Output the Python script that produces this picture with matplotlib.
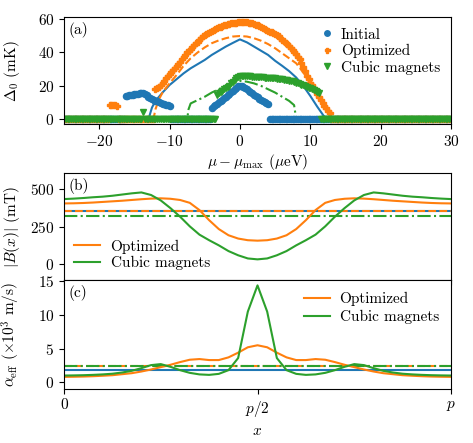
import numpy as np
import matplotlib
matplotlib.use("Agg")
import matplotlib.pyplot as plt

plt.rcParams['font.family'] = 'serif'
plt.rcParams['font.serif'] = ['cmr10', 'DejaVu Serif']
plt.rcParams['mathtext.fontset'] = 'cm'
plt.rcParams['axes.formatter.use_mathtext'] = True
plt.rcParams['font.size'] = 11

# ---- panel (a): gap vs chemical potential ----
step = 0.25
init_seg1_start = -16.25
init_seg1 = [14.0, 14.2, 14.4, 14.6, 14.8, 15.0, 15.2, 15.4, 15.6, 15.8, 16.0,
             15.2, 14.4, 13.6, 12.9, 12.3, 11.7, 11.2, 10.7, 10.2, 9.8, 9.4,
             9.0, 8.7, 8.4, 8.1]
init_seg2_start = -4.0
init_seg2 = [7.0, 7.8, 8.6, 9.4, 10.2, 11.0, 11.8, 12.7, 13.6, 14.5, 15.4, 16.3,
             17.2, 18.1, 19.0, 19.7, 20.0, 19.8, 19.3, 18.6, 17.9, 17.1, 16.3,
             15.5, 14.7, 13.9, 13.1, 12.4, 11.7, 11.0, 10.3, 9.6, 9.0]
init_zero_ranges = [(-25, -16.5), (-9.75, -4.25), (4.25, 30)]

opt_seg1_start = -18.5
opt_seg1 = [8.5, 8.5, 8.8, 8.3, 8.0]
opt_seg2_start = -12.0
opt_seg2 = [18.0, 18.5, 19.5, 20.5, 22.0, 23.2, 24.5, 25.8, 27.0, 28.3, 29.6,
            30.8, 32.0, 33.3, 34.5, 35.8, 37.0, 38.5, 40.0, 41.0, 42.0, 43.2,
            44.3, 45.4, 46.5, 47.6, 48.6, 49.6, 50.5, 51.2, 51.8, 52.4, 53.0,
            53.5, 54.0, 54.5, 55.0, 55.4, 55.8, 56.2, 56.5, 56.8, 57.0, 57.3,
            57.5, 57.6, 57.8, 57.9, 58.0, 58.0, 58.0, 58.0, 58.0, 57.8, 57.5,
            57.3, 57.0, 56.6, 56.2, 55.8, 55.0, 54.5, 54.0, 53.5, 53.0, 52.5,
            52.0, 51.5, 51.0, 50.3, 49.6, 48.8, 47.5, 46.6, 45.7, 44.8, 44.0,
            42.8, 41.5, 40.3, 39.0, 37.5, 36.0, 33.8, 31.5, 28.8, 26.0, 24.0,
            22.0, 20.5, 19.0, 17.0, 15.0, 13.3, 11.5, 9.8, 8.0, 6.5, 5.0, 3.5]
opt_zero_ranges = [(-25, -18.75), (-17.25, -12.25), (13.0, 30)]

cub_seg1_start = -13.75
cub_seg1 = [4.5]
cub_seg2_start = -3.25
cub_seg2 = [14.5, 15.5, 16.5, 17.0, 18.0, 18.5, 19.5, 20.0, 21.5, 22.5, 23.5,
            24.5, 25.5, 26.0, 26.0, 26.0, 25.9, 25.8, 25.8, 25.7, 25.6, 25.5,
            25.5, 25.4, 25.3, 25.2, 25.1, 25.0, 25.0, 24.9, 24.8, 24.7, 24.6,
            24.5, 24.4, 24.3, 24.1, 24.0, 23.8, 23.6, 23.4, 23.2, 23.0, 22.7,
            22.4, 22.0, 21.6, 21.2, 20.8, 20.4, 20.0, 19.5, 19.0, 18.5, 18.0,
            17.5, 17.0, 16.5, 16.0]
cub_zero_ranges = [(-25, -14.0), (-13.5, -3.5), (11.5, 30)]

init_line_x = [-25, -13, -12.5, -12, -11, -10, -9, -8, -7, -6, -5, -4, -3, -2, -1, 0,
               1, 2, 3, 4, 5, 6, 7, 8, 9, 10, 11, 11.5, 12, 12.2, 30]
init_line_y = [0, 0, 7, 11, 16, 20.5, 24, 27.5, 30.5, 33, 35.5, 38.5, 41, 43.5, 45.7, 47.8,
               46, 43.5, 41, 38.5, 35, 32, 28.8, 25, 20, 14, 7.5, 4.5, 1.5, 0, 0]
opt_line_x = [-25, -12.3, -12, -11.5, -11, -10, -9, -8, -7, -6, -5, -4, -3, -2, -1, 0,
              1, 2, 3, 4, 5, 6, 7, 8, 9, 10, 11, 12, 12.6, 13, 30]
opt_line_y = [0, 0, 6, 12, 16, 21.5, 26.5, 32, 36.5, 40, 43, 45.5, 47.2, 48.5, 49.5, 49.8,
              49.5, 48.5, 47, 45, 42.5, 39.5, 36.5, 33.5, 28, 21.5, 14.5, 8, 3.6, 0, 0]
cub_line_x = [-25, -7.5, -7.3, -7, -6, -5, -4, -3, -2, -1, 0,
              1, 2, 3, 4, 5, 6, 7, 7.7, 7.9, 8, 30]
cub_line_y = [0, 0, 6, 9.5, 11.5, 13.5, 16, 18, 20, 22, 23,
              22.5, 21.5, 20, 18, 16, 13.5, 11, 8.5, 3, 0, 0]

# ---- panels (b) and (c): along the wire ----
x_pos = [0.0, 0.025, 0.05, 0.075, 0.1, 0.125, 0.15, 0.175, 0.2, 0.225, 0.25,
         0.275, 0.3, 0.325, 0.35, 0.375, 0.4, 0.425, 0.45, 0.475, 0.5,
         0.525, 0.55, 0.575, 0.6, 0.625, 0.65, 0.675, 0.7, 0.725, 0.75,
         0.775, 0.8, 0.825, 0.85, 0.875, 0.9, 0.925, 0.95, 0.975, 1.0]

b_opt = [404, 405, 407, 410, 414, 418, 422, 427, 432, 436, 438,
         435, 427, 408, 360, 293, 234, 193, 171, 160, 157,
         160, 171, 193, 234, 293, 360, 408, 427, 435, 438,
         436, 432, 427, 422, 418, 414, 410, 407, 405, 404]
b_cub = [433, 436, 440, 445, 449, 455, 463, 471, 477, 460, 424,
         373, 316, 252, 197, 160, 126, 88, 60, 39, 33,
         39, 60, 88, 126, 160, 197, 252, 316, 373, 424,
         460, 477, 471, 463, 455, 449, 445, 440, 436, 433]
b_init_const = 357
b_opt_const = 357
b_cub_const = 318

c_opt = [0.8, 0.82, 0.85, 0.9, 0.97, 1.05, 1.2, 1.35, 1.6, 1.9, 2.25,
         2.6, 3.0, 3.35, 3.45, 3.3, 3.3, 3.7, 4.4, 5.2, 5.5,
         5.2, 4.4, 3.7, 3.3, 3.3, 3.45, 3.35, 3.0, 2.6, 2.25,
         1.9, 1.6, 1.35, 1.2, 1.05, 0.97, 0.9, 0.85, 0.82, 0.8]
c_cub = [1.0, 1.02, 1.05, 1.1, 1.17, 1.27, 1.45, 1.7, 2.1, 2.55, 2.7,
         2.3, 1.8, 1.4, 1.17, 1.1, 1.25, 1.8, 3.6, 10.5, 14.4,
         10.5, 3.6, 1.8, 1.25, 1.1, 1.17, 1.4, 1.8, 2.3, 2.7,
         2.55, 2.1, 1.7, 1.45, 1.27, 1.17, 1.1, 1.05, 1.02, 1.0]
c_init_const = 1.8
c_opt_const = 2.45
c_cub_const = 2.45

blue, orange, green = '#1f77b4', '#ff7f0e', '#2ca02c'


def seg_x(start, vals):
    return start + step * np.arange(len(vals))


def zero_x(ranges):
    xs = []
    for lo, hi in ranges:
        xs.append(np.arange(lo, hi + 1e-6, step))
    return np.concatenate(xs)


fig = plt.figure(figsize=(4.73, 4.43), dpi=100)
W, H = 473, 443
ax_a = fig.add_axes([64 / W, 1 - 124 / H, 387 / W, 106.7 / H])
ax_b = fig.add_axes([64 / W, 1 - 280 / H, 387 / W, 106.7 / H])
ax_c = fig.add_axes([64 / W, 1 - 389 / H, 387 / W, 109 / H])

lw = 1.5

# (a)
ax_a.plot(init_line_x, init_line_y, '-', color=blue, lw=lw)
ax_a.plot(opt_line_x, opt_line_y, '--', color=orange, lw=lw)
ax_a.plot(cub_line_x, cub_line_y, '-.', color=green, lw=lw)

ms_c, ms_x, ms_v = 4.4, 4.0, 5.0
iz = zero_x(init_zero_ranges)
oz = zero_x(opt_zero_ranges)
cz = zero_x(cub_zero_ranges)
ax_a.plot(iz, np.zeros(len(iz)), 'o', color=blue, ms=ms_c, ls='none')
ax_a.plot(seg_x(init_seg1_start, init_seg1), init_seg1, 'o', color=blue, ms=ms_c, ls='none')
ax_a.plot(seg_x(init_seg2_start, init_seg2), init_seg2, 'o', color=blue, ms=ms_c, ls='none',
          label='Initial')
ax_a.plot(oz, np.zeros(len(oz)), 'P', color=orange, ms=ms_x, ls='none')
ax_a.plot(seg_x(opt_seg1_start, opt_seg1), opt_seg1, 'P', color=orange, ms=ms_x, ls='none')
ax_a.plot(seg_x(opt_seg2_start, opt_seg2), opt_seg2, 'P', color=orange, ms=ms_x, ls='none',
          label='Optimized')
ax_a.plot(cz, np.zeros(len(cz)), 'v', color=green, ms=ms_v, ls='none')
ax_a.plot(seg_x(cub_seg1_start, cub_seg1), cub_seg1, 'v', color=green, ms=ms_v, ls='none')
ax_a.plot(seg_x(cub_seg2_start, cub_seg2), cub_seg2, 'v', color=green, ms=ms_v, ls='none',
          label='Cubic magnets')

ax_a.set_xlim(-25, 30)
ax_a.set_ylim(-2.8, 61)
ax_a.set_yticks([0, 20, 40, 60])
ax_a.set_xticks([-20, -10, 0, 10, 20, 30])
ax_a.set_xlabel(r'$\mu - \mu_{\mathrm{max}}$ ($\mu$eV)', labelpad=2)
ax_a.set_ylabel(r'$\Delta_0$ (mK)')
ax_a.text(0.012, 0.955, '(a)', transform=ax_a.transAxes, va='top', ha='left')
ax_a.legend(loc='upper right', frameon=False, handlelength=1.0, handletextpad=0.4,
            labelspacing=0.15, borderaxespad=0.3, markerscale=0.9)

# (b)
ax_b.axhline(b_init_const, color=blue, lw=lw)
ax_b.axhline(b_opt_const, color=orange, lw=lw, ls='--')
ax_b.axhline(b_cub_const, color=green, lw=lw, ls='-.')
ax_b.plot(x_pos, b_opt, color=orange, lw=lw, label='Optimized')
ax_b.plot(x_pos, b_cub, color=green, lw=lw, label='Cubic magnets')
ax_b.set_xlim(0, 1)
ax_b.set_ylim(-104, 604)
ax_b.set_yticks([0, 250, 500])
ax_b.set_xticks([0, 0.5, 1])
ax_b.set_xticklabels([])
ax_b.set_ylabel(r'$|B(x)|$ (mT)')
ax_b.text(0.012, 0.955, '(b)', transform=ax_b.transAxes, va='top', ha='left')
ax_b.legend(loc='lower left', frameon=False, handlelength=1.7, handletextpad=0.7,
            labelspacing=0.15, borderaxespad=0.25)

# (c)
ax_c.axhline(c_init_const, color=blue, lw=lw)
ax_c.axhline(c_opt_const, color=orange, lw=lw, ls='--')
ax_c.axhline(c_cub_const, color=green, lw=lw, ls='-.')
ax_c.plot(x_pos, c_opt, color=orange, lw=lw, label='Optimized')
ax_c.plot(x_pos, c_cub, color=green, lw=lw, label='Cubic magnets')
ax_c.set_xlim(0, 1)
ax_c.set_ylim(-1.0, 15.2)
ax_c.set_yticks([0, 5, 10, 15])
ax_c.set_xticks([0, 0.5, 1])
ax_c.set_xticklabels(['0', r'$p/2$', r'$p$'])
ax_c.set_xlabel(r'$x$')
ax_c.set_ylabel(r'$\alpha_{\mathrm{eff}}$ ($\times 10^3$ m/s)')
ax_c.text(0.012, 0.955, '(c)', transform=ax_c.transAxes, va='top', ha='left')
ax_c.legend(loc='upper right', frameon=False, handlelength=1.7, handletextpad=0.6,
            labelspacing=0.25, borderaxespad=0.4)

for ax in (ax_a, ax_b, ax_c):
    ax.yaxis.set_label_coords(-0.108, 0.5)

fig.savefig('out.png', dpi=100)
